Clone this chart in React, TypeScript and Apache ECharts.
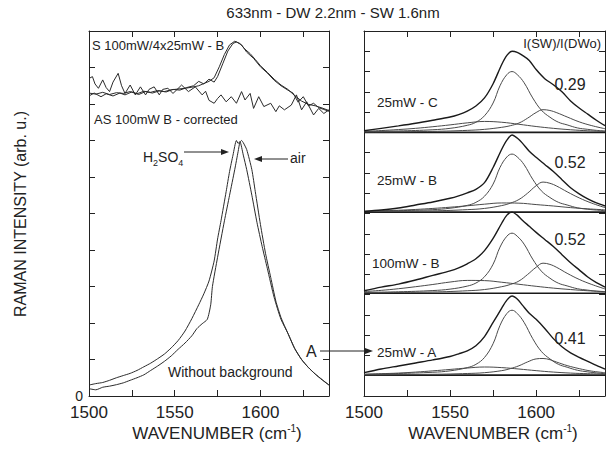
import { useEffect, useRef } from 'react';
import * as echarts from 'echarts';

const FONT = '"Liberation Sans", Arial, Helvetica, sans-serif';

// ---------- Left panel data ----------
const W_H2SO4 = [1500,1504,1508,1512,1516,1520,1524,1528,1532,1536,1540,1544,1548,1552,1556,1560,1564,1567,1570,1573,1575,1577,1580,1582,1584,1586,1587,1588,1590,1592,1595,1598,1601,1604,1608,1612,1616,1620,1624,1628,1632,1636,1640];
const V_H2SO4 = [0.3,0.34,0.37,0.43,0.5,0.56,0.62,0.7,0.8,0.9,1.02,1.15,1.32,1.52,1.78,2.12,2.5,2.8,3.15,3.7,4.3,4.8,5.6,6.15,6.6,7.0,6.92,6.97,6.6,6.2,5.5,4.75,4.1,3.5,2.7,2.1,1.72,1.3,1.0,0.78,0.6,0.45,0.3];

const W_AIR = [1500,1504,1508,1512,1516,1520,1524,1528,1532,1536,1540,1544,1548,1552,1556,1560,1563,1566,1569,1571,1572,1575,1579,1582,1585,1587,1588,1589,1590,1592,1595,1597,1600,1603,1606,1609,1612,1616,1620,1624,1628,1632,1636,1640];
const V_AIR = [0.2,0.17,0.24,0.27,0.31,0.36,0.43,0.5,0.58,0.7,0.82,0.95,1.1,1.28,1.45,1.65,1.85,1.98,2.1,2.5,3.0,3.8,4.8,5.5,6.2,6.7,6.95,7.0,6.94,6.75,6.2,5.6,4.7,3.9,3.25,2.6,2.15,1.72,1.3,1.0,0.78,0.6,0.44,0.3];

const W_S1 = [1500,1504,1508,1512,1516,1520,1524,1528,1532,1536,1540,1544,1548,1552,1556,1560,1564,1567,1570,1573,1576,1579,1582,1585,1588,1591,1594,1597,1600,1604,1608,1612,1616,1620,1624,1628,1632,1636,1640];
const V_S1 = [8.3,8.27,8.32,8.26,8.31,8.29,8.34,8.28,8.35,8.32,8.37,8.34,8.39,8.41,8.43,8.46,8.5,8.56,8.62,8.72,9.02,9.36,9.62,9.72,9.66,9.5,9.38,9.22,9.05,8.87,8.68,8.52,8.4,8.23,8.08,7.99,7.95,7.89,7.82];

const W_S2 = [1500,1503,1507,1510,1514,1518,1521,1525,1529,1533,1537,1541,1545,1549,1553,1557,1561,1564,1567,1570,1573,1575,1578,1581,1584,1586,1589,1592,1596,1600,1604,1608,1612,1616,1619,1622,1625,1628,1631,1634,1637,1640];
const V_S2 = [8.22,8.3,8.2,8.28,8.22,8.3,8.25,8.33,8.26,8.34,8.3,8.36,8.33,8.4,8.38,8.45,8.5,8.62,8.55,8.68,8.6,8.75,9.1,9.45,9.66,9.7,9.62,9.42,9.25,9.02,8.85,8.65,8.5,8.38,8.3,8.05,8.2,7.95,8.02,7.9,7.85,7.8];

const W_AS = [1500,1502,1503.5,1505.5,1508,1510,1512,1514,1517,1519,1521,1524,1527,1530,1533,1535,1538,1541,1543,1546,1549,1551,1554,1558,1562,1566,1568,1570,1573,1575,1577,1580,1583,1586,1589,1591,1594,1596,1599,1602,1606,1609,1611,1614,1618,1621,1624,1627,1631,1634,1637,1640];
const V_AS = [8.7,8.75,8.55,8.43,8.66,8.45,8.34,8.6,8.84,8.5,8.29,8.52,8.25,8.47,8.25,8.4,8.47,8.25,8.4,8.43,8.29,8.38,8.52,8.34,8.47,8.25,8.35,8.1,8.02,8.15,8.25,8.06,8.2,8.02,8.34,8.11,8.29,7.88,8.2,7.93,8.02,7.79,7.95,7.84,7.97,8.25,7.84,8.06,7.7,7.88,7.74,7.84];

// ---------- Right panel data (values above each spectrum's baseline) ----------
const W_MAIN = [1500,1520,1540,1550,1560,1565,1570,1575,1579,1583,1586,1589,1593,1598,1603,1608,1613,1618,1624,1630,1635,1640];
const MAIN_C    = [0.04,0.07,0.13,0.2,0.35,0.5,0.82,1.45,2.3,2.85,3.0,2.85,2.45,1.7,1.1,0.75,0.5,0.37,0.22,0.15,0.1,0.07];
const MAIN_B25  = [0.04,0.07,0.12,0.19,0.33,0.48,0.78,1.38,2.2,2.72,2.86,2.72,2.34,1.62,1.05,0.72,0.48,0.35,0.21,0.14,0.1,0.07];
const MAIN_B100 = [0.04,0.07,0.13,0.2,0.35,0.5,0.81,1.43,2.27,2.81,2.96,2.81,2.42,1.68,1.09,0.74,0.49,0.36,0.22,0.15,0.1,0.07];
const MAIN_A    = [0.04,0.08,0.14,0.21,0.37,0.53,0.87,1.55,2.45,3.04,3.2,3.04,2.6,1.8,1.17,0.8,0.53,0.39,0.24,0.16,0.11,0.07];

const W_SH = [1500,1540,1560,1570,1580,1585,1590,1595,1600,1604,1608,1612,1618,1625,1632,1640];
const SH_C    = [0.02,0.05,0.1,0.15,0.25,0.33,0.46,0.7,0.98,1.12,1.08,0.97,0.76,0.52,0.34,0.18];
const SH_B25  = [0.02,0.06,0.12,0.18,0.32,0.44,0.62,0.93,1.3,1.48,1.42,1.28,1.0,0.7,0.45,0.22];
const SH_B100 = [0.02,0.06,0.12,0.18,0.32,0.43,0.6,0.92,1.28,1.48,1.42,1.27,0.98,0.68,0.44,0.21];
const SH_A    = [0.01,0.04,0.08,0.12,0.22,0.32,0.46,0.65,0.8,0.82,0.76,0.64,0.47,0.32,0.2,0.12];

const W_BR = [1500,1510,1520,1530,1540,1550,1560,1570,1580,1590,1600,1610,1620,1630,1640];
const BR_C    = [0.05,0.09,0.14,0.2,0.28,0.37,0.47,0.54,0.5,0.4,0.29,0.2,0.13,0.08,0.05];
const BR_B25  = [0.03,0.06,0.09,0.13,0.18,0.24,0.31,0.39,0.45,0.44,0.37,0.3,0.22,0.16,0.11];
const BR_B100 = [0.08,0.14,0.22,0.32,0.43,0.55,0.63,0.62,0.54,0.44,0.34,0.25,0.18,0.12,0.08];
const BR_A    = [0.04,0.07,0.1,0.15,0.21,0.28,0.35,0.4,0.37,0.3,0.22,0.15,0.1,0.07,0.05];

const W_TOT = [1500,1510,1520,1530,1540,1550,1555,1560,1565,1570,1575,1580,1583,1586,1589,1592,1596,1600,1605,1610,1615,1620,1625,1630,1635,1640];
const TOT_C    = [0.08,0.2,0.32,0.45,0.6,0.76,0.88,1.05,1.3,1.7,2.4,3.35,3.8,4.0,3.95,3.8,3.55,3.1,2.65,2.35,2.0,1.55,1.2,0.9,0.6,0.33];
const TOT_B25  = [0.03,0.1,0.2,0.35,0.5,0.68,0.8,0.95,1.12,1.45,2.2,3.1,3.55,3.8,3.65,3.4,3.0,2.7,2.35,2.0,1.6,1.2,0.9,0.65,0.45,0.3];
const TOT_B100 = [0.12,0.3,0.45,0.65,0.88,1.1,1.25,1.45,1.7,2.1,2.7,3.45,3.85,4.0,3.85,3.6,3.3,3.0,2.65,2.3,1.9,1.5,1.15,0.8,0.52,0.3];
const TOT_A    = [0.12,0.3,0.45,0.6,0.75,0.92,1.05,1.2,1.45,1.9,2.6,3.3,3.7,3.9,3.75,3.45,3.05,2.75,2.3,1.8,1.4,1.1,0.88,0.68,0.48,0.3];

const SPECTRA = [
  { name: '25mW - C', ratio: '0.29', main: MAIN_C, sh: SH_C, br: BR_C, tot: TOT_C },
  { name: '25mW - B', ratio: '0.52', main: MAIN_B25, sh: SH_B25, br: BR_B25, tot: TOT_B25 },
  { name: '100mW - B', ratio: '0.52', main: MAIN_B100, sh: SH_B100, br: BR_B100, tot: TOT_B100 },
  { name: '25mW - A', ratio: '0.41', main: MAIN_A, sh: SH_A, br: BR_A, tot: TOT_A },
];
const OFFSETS = [13.0, 9.07, 5.07, 1.03];

const X_MIN = 1500;
const X_MAX = 1640;
const X_LABELS = [1500, 1550, 1600];

const pts = (ws: number[], vs: number[], off = 0) => ws.map((w, i) => [w, vs[i] + off]);

const INK = '#222';

function lineSeries(data: number[][], xi: number, opts: any = {}) {
  return {
    type: 'line',
    xAxisIndex: xi,
    yAxisIndex: xi,
    data,
    symbol: 'none',
    silent: true,
    smooth: opts.smooth ?? false,
    lineStyle: { color: opts.color ?? '#2a2a2a', width: opts.width ?? 1 },
    z: opts.z ?? 2,
  };
}

function xAxes(grid: number) {
  const base = {
    type: 'value', gridIndex: grid, min: X_MIN, max: X_MAX, interval: 25,
    axisLine: { show: true, onZero: false, lineStyle: { color: INK, width: 1 } },
    axisTick: { show: true, inside: true, length: 6, lineStyle: { color: INK } },
    splitLine: { show: false },
  };
  return [
    { ...base, position: 'bottom',
      axisLabel: { show: true, margin: 8, color: INK, fontSize: 17, fontFamily: FONT,
        formatter: (v: number) => (X_LABELS.includes(v) ? String(v) : '') } },
    { ...base, position: 'top', axisLabel: { show: false } },
  ];
}

function yAxes(grid: number, max: number, zeroLabel: boolean) {
  const base = {
    type: 'value', gridIndex: grid, min: 0, max, interval: 1,
    axisLine: { show: true, onZero: false, lineStyle: { color: INK, width: 1 } },
    axisTick: { show: true, inside: true, length: 6, lineStyle: { color: INK } },
    splitLine: { show: false },
  };
  return [
    { ...base, position: 'left',
      axisLabel: { show: zeroLabel, margin: 6, color: INK, fontSize: 14, fontFamily: FONT,
        formatter: (v: number) => (v === 0 ? '0' : '') } },
    { ...base, position: 'right', axisLabel: { show: false } },
  ];
}

function txt(text: string, x: number, y: number, size: number, align = 'left', extra: any = {}) {
  return {
    type: 'text', x, y, silent: true, z: 10,
    style: {
      text, fill: INK, font: `${size}px ${FONT}`, fontSize: size, fontFamily: FONT,
      textAlign: align, align, textVerticalAlign: 'middle', verticalAlign: 'middle',
      ...extra,
    },
  };
}

function arrow(x1: number, y: number, x2: number) {
  const dir = x2 > x1 ? 1 : -1;
  return [
    { type: 'line', silent: true, shape: { x1, y1: y, x2: x2 - dir * 5, y2: y }, style: { stroke: INK, lineWidth: 1 } },
    { type: 'polygon', silent: true, shape: { points: [[x2, y], [x2 - dir * 8, y - 3], [x2 - dir * 8, y + 3]] }, style: { fill: INK } },
  ];
}

function buildOption() {
  const series: any[] = [];
  // left panel
  series.push(lineSeries(pts(W_H2SO4, V_H2SO4), 0, { smooth: 0.2 }));
  series.push(lineSeries(pts(W_AIR, V_AIR), 0, { smooth: 0.2 }));
  series.push(lineSeries(pts(W_S1, V_S1), 0));
  series.push(lineSeries(pts(W_S2, V_S2), 0));
  series.push(lineSeries(pts(W_AS, V_AS), 0));
  // right panel
  SPECTRA.forEach((s, i) => {
    const off = OFFSETS[i];
    series.push(lineSeries([[X_MIN, off], [X_MAX, off]], 1, { width: 1.6, color: '#1a1a1a' }));
    series.push(lineSeries(pts(W_BR, s.br, off), 1, { smooth: 0.4, color: '#4a4a4a' }));
    series.push(lineSeries(pts(W_SH, s.sh, off), 1, { smooth: 0.4, color: '#4a4a4a' }));
    series.push(lineSeries(pts(W_MAIN, s.main, off), 1, { smooth: 0.4, color: '#4a4a4a' }));
    series.push(lineSeries(pts(W_TOT, s.tot, off), 1, { smooth: 0.3, color: '#1a1a1a', width: 1.4, z: 3 }));
  });
  // fix axis indices: right panel series use axes index 2
  series.forEach((s) => {
    if (s.xAxisIndex === 1) { s.xAxisIndex = 2; s.yAxisIndex = 2; }
  });

  const xLabelRich = {
    sup: { fontSize: 10, fontFamily: FONT, fill: INK, verticalAlign: 'top', lineHeight: 10 },
  };
  const subRich = {
    s: { fontSize: 9, fontFamily: FONT, fill: INK, verticalAlign: 'bottom', lineHeight: 9 },
  };

  const graphic: any[] = [
    txt('633nm - DW 2.2nm - SW 1.6nm', 333, 12, 15, 'center'),
    { ...txt('RAMAN INTENSITY (arb. u.)', 20, 214, 16, 'center'), rotation: Math.PI / 2 },
    txt('WAVENUMBER (cm{sup|-1})', 217, 433, 17, 'center', { rich: xLabelRich, lineHeight: 20 }),
    txt('WAVENUMBER (cm{sup|-1})', 493, 433, 17, 'center', { rich: xLabelRich, lineHeight: 20 }),
    txt('S 100mW/4x25mW - B', 92, 45, 13),
    txt('AS 100mW B - corrected', 94, 119, 13),
    txt('H{s|2}SO{s|4}', 143, 157, 14, 'left', { rich: subRich, lineHeight: 20 }),
    txt('air', 290, 158, 14),
    txt('Without background', 168, 372, 14),
    txt('A', 306, 351, 16),
    txt('I(SW)/I(DWo)', 601, 43, 13, 'right'),
    ...arrow(184, 152, 229),
    ...arrow(288, 159, 254),
    ...arrow(320, 351, 373),
  ];
  const nameY = [102, 180, 263, 352];
  const ratioY = [84, 162, 239, 338];
  SPECTRA.forEach((s, i) => {
    graphic.push(txt(s.name, i === 2 ? 372 : 377, nameY[i], 13.5));
    graphic.push(txt(s.ratio, 570, ratioY[i], 16, 'center'));
  });

  return {
    animation: false,
    backgroundColor: '#ffffff',
    grid: [
      { left: 89, top: 31, width: 240, height: 365 },
      { left: 364, top: 31, width: 241, height: 365 },
    ],
    xAxis: [...xAxes(0), ...xAxes(1)],
    yAxis: [...yAxes(0, 10, true), ...yAxes(1, 18, false)],
    series,
    graphic,
  };
}

export default function App() {
  const ref = useRef<HTMLDivElement>(null);
  useEffect(() => {
    if (!ref.current) return;
    const chart = echarts.init(ref.current, null, { renderer: 'svg' });
    chart.setOption(buildOption() as any);
    return () => chart.dispose();
  }, []);
  return (
    <div
      ref={ref}
      style={{ position: 'fixed', left: 0, top: 0, width: 614, height: 449, background: '#fff' }}
    />
  );
}
